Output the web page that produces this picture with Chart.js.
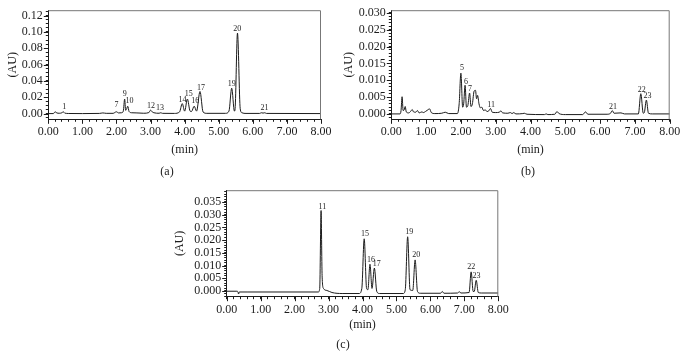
<!DOCTYPE html>
<html><head><meta charset="utf-8">
<script src="https://cdn.jsdelivr.net/npm/chart.js@4.4.0/dist/chart.umd.min.js"></script>
<style>
body{margin:0;background:#fff;width:686px;height:357px;overflow:hidden;position:relative;font-family:"Liberation Serif","Times New Roman",serif;}
canvas{position:absolute;}
.cap{position:absolute;font-size:12px;transform:translate(-50%,-50%);color:#222;white-space:nowrap;}
</style></head><body>
<canvas id="ca" width="335" height="180" style="left:0px;top:0px"></canvas>
<canvas id="cb" width="351" height="180" style="left:335px;top:0px"></canvas>
<canvas id="cc" width="360" height="177" style="left:160px;top:180px"></canvas>
<div class="cap" style="left:167px;top:171px">(a)</div>
<div class="cap" style="left:528px;top:171px">(b)</div>
<div class="cap" style="left:343px;top:344px">(c)</div>
<script>
// ---- Panel (a) ----
const timeA = [0.00,0.15,0.20,0.25,0.32,0.40,0.44,0.48,0.60,1.00,1.50,1.60,1.70,1.90,2.00,2.06,2.15,2.20,2.24,2.27,2.30,2.33,2.37,2.45,2.60,2.80,2.95,3.00,3.05,3.10,3.25,3.30,3.35,3.70,3.85,3.93,4.00,4.08,4.16,4.20,4.28,4.35,4.45,4.54,4.65,5.20,5.30,5.38,5.46,5.48,5.55,5.63,5.68,5.80,6.20,6.25,6.30,6.35,6.40,8.00];
const auA   = [0.0000,0.0000,0.0022,0.0008,0.0004,0.0010,0.0022,0.0006,0.0001,0.0000,0.0002,0.0008,0.0003,0.0003,0.0022,0.0008,0.0010,0.0030,0.0178,0.0040,0.0060,0.0090,0.0025,0.0010,0.0008,0.0004,0.0012,0.0042,0.0020,0.0010,0.0004,0.0010,0.0003,0.0002,0.0020,0.0122,0.0030,0.0178,0.0030,0.0025,0.0090,0.0030,0.0270,0.0020,0.0003,0.0003,0.0030,0.0310,0.0030,0.0060,0.0985,0.0060,0.0010,0.0002,0.0002,0.0010,0.0006,0.0010,0.0002,0.0000];
const peakNameA = ["1","7","9","10","12","13","14","15","16","17","19","20","21"];
const peakTimeA = [0.47,2.00,2.24,2.38,3.01,3.28,3.94,4.12,4.31,4.48,5.38,5.54,6.34];
const peakAuA   = [0.0083,0.0107,0.0246,0.0151,0.0100,0.0064,0.0171,0.0238,0.0154,0.0314,0.0361,0.1042,0.0068];

// ---- Panel (b) ----
const timeB = [0.00,0.25,0.28,0.31,0.34,0.37,0.40,0.43,0.50,0.56,0.60,0.64,0.70,0.75,0.80,0.88,0.92,0.98,1.05,1.10,1.15,1.25,1.45,1.55,1.65,1.90,1.95,2.00,2.05,2.08,2.12,2.16,2.20,2.25,2.29,2.33,2.38,2.42,2.45,2.48,2.52,2.56,2.60,2.65,2.70,2.75,2.80,2.85,2.90,3.00,3.10,3.15,3.20,3.35,3.42,3.47,3.52,3.58,3.78,3.82,3.90,4.40,4.45,4.50,4.70,4.76,4.82,5.00,5.50,5.58,5.65,6.20,6.30,6.35,6.40,6.60,6.70,7.10,7.17,7.24,7.27,7.33,7.39,7.50,8.00];
const auB   = [0.0000,0.0000,0.0010,0.0051,0.0010,0.0012,0.0022,0.0006,0.0003,0.0008,0.0013,0.0006,0.0005,0.0010,0.0003,0.0006,0.0004,0.0007,0.0012,0.0015,0.0004,0.0001,0.0002,0.0005,0.0001,0.0001,0.0030,0.0121,0.0020,0.0030,0.0085,0.0020,0.0025,0.0062,0.0022,0.0030,0.0068,0.0070,0.0045,0.0055,0.0030,0.0018,0.0020,0.0010,0.0012,0.0007,0.0009,0.0016,0.0005,0.0004,0.0005,0.0009,0.0003,0.0002,0.0004,0.0001,0.0004,0.0000,0.0001,0.0002,-0.0001,-0.0002,0.0000,-0.0002,-0.0001,0.0007,0.0001,-0.0002,-0.0002,0.0006,-0.0001,-0.0001,0.0002,0.0010,0.0002,0.0003,0.0000,0.0000,0.0060,0.0002,0.0004,0.0041,0.0002,0.0000,0.0000];
const peakNameB = ["5","6","7","11","21","22","23"];
const peakTimeB = [2.03,2.15,2.26,2.87,6.37,7.20,7.36];
const peakAuB   = [0.0136,0.0095,0.0075,0.0027,0.0020,0.0071,0.0052];

// ---- Panel (c) ----
const timeC = [0.00,0.30,0.33,0.35,0.37,0.60,2.70,2.74,2.78,2.81,2.85,2.95,3.10,3.40,3.90,3.98,4.05,4.12,4.16,4.22,4.28,4.35,4.42,4.50,5.20,5.26,5.33,5.40,5.48,5.55,5.62,5.70,6.30,6.35,6.40,6.80,6.85,6.90,7.14,7.20,7.26,7.29,7.35,7.41,7.50,8.00];
const auC   = [-0.0001,-0.0001,-0.0003,-0.0012,-0.0004,-0.0004,-0.0004,0.0010,0.0316,0.0060,0.0010,0.0002,-0.0006,-0.0010,-0.0010,0.0010,0.0205,0.0010,0.0005,0.0105,0.0010,0.0090,-0.0002,-0.0010,-0.0010,0.0005,0.0213,0.0005,0.0002,0.0122,-0.0002,-0.0009,-0.0009,-0.0002,-0.0009,-0.0008,-0.0003,-0.0008,-0.0006,0.0075,-0.0002,-0.0002,0.0042,-0.0006,-0.0008,-0.0008];
const peakNameC = ["11","15","16","17","19","20","22","23"];
const peakTimeC = [2.82,4.07,4.25,4.42,5.38,5.58,7.20,7.36];
const peakAuC   = [0.0331,0.0224,0.0121,0.0106,0.0232,0.0140,0.0095,0.0061];

// axis settings
const xRange = [0, 8];
const xMinorStep = 0.2;
const yRangeA = [-0.007, 0.1265], yMinorA = 0.005, yMajorA = 0.02, yDecA = 2;
const yRangeB = [-0.0016, 0.0308], yMinorB = 0.001, yMajorB = 0.005, yDecB = 3;
const yRangeC = [-0.00225, 0.0396], yMinorC = 0.001, yMajorC = 0.005, yDecC = 3;

const FONT = "Liberation Serif";
const INK = '#1c1c1c';

function isMult(v, m){ const r = v / m; return Math.abs(r - Math.round(r)) < 1e-6; }

function makeChart(id, times, values, pNames, pTimes, pAus, yRange, yMinor, yMajor, yDec, L){
  const pts = times.map((t,i)=>({x:t, y:values[i]}));
  const deco = {
    id: 'deco',
    afterDraw(chart){
      const ctx = chart.ctx, a = chart.chartArea;
      const xs = chart.scales.x, ys = chart.scales.y;
      ctx.save();
      ctx.lineWidth = 1;
      ctx.strokeStyle = '#777';
      ctx.beginPath();
      ctx.moveTo(a.left, a.top+0.5); ctx.lineTo(a.right-0.5, a.top+0.5); ctx.lineTo(a.right-0.5, a.bottom);
      ctx.stroke();
      ctx.strokeStyle = INK;
      ctx.beginPath();
      xs.ticks.forEach(t=>{ if(isMult(t.value,1)){ const px = Math.round(xs.getPixelForValue(t.value))+0.5; ctx.moveTo(px, a.bottom); ctx.lineTo(px, a.bottom+4.5);} });
      ys.ticks.forEach(t=>{ if(isMult(t.value,yMajor)){ const py = Math.round(ys.getPixelForValue(t.value))+0.5; ctx.moveTo(a.left, py); ctx.lineTo(a.left-4.5, py);} });
      ctx.stroke();
      ctx.fillStyle = INK;
      ctx.font = '8px "'+FONT+'"';
      ctx.textAlign = 'center'; ctx.textBaseline = 'middle';
      pNames.forEach((n,i)=>{ ctx.fillText(n, xs.getPixelForValue(pTimes[i]), ys.getPixelForValue(pAus[i])); });
      ctx.restore();
    }
  };
  return new Chart(document.getElementById(id), {
    type: 'line',
    data: { datasets: [{ data: pts, borderColor: INK, borderWidth: 1, pointRadius: 0, cubicInterpolationMode: 'monotone', fill: false }] },
    options: {
      responsive: false, animation: false, events: [],
      layout: { padding: { top: L.padTop, right: L.padRight, left: 0, bottom: 0 } },
      plugins: { legend: {display:false}, tooltip: {enabled:false} },
      scales: {
        x: {
          type: 'linear', min: xRange[0], max: xRange[1],
          afterFit: s => { s.height = L.xH; },
          border: { display: true, color: INK, width: 1 },
          grid: { drawOnChartArea: false, drawTicks: true, tickLength: 2.5, color: INK },
          ticks: { stepSize: xMinorStep, autoSkip: false, maxRotation: 0, minRotation: 0, padding: L.xTickPad, color: INK,
                   font: { family: FONT, size: 12 },
                   callback: v => isMult(v,1) ? Number(v).toFixed(2) : '' },
          title: { display: true, text: '(min)', color: INK, font: { family: FONT, size: 12 }, padding: { top: 0, bottom: L.xTitlePad } }
        },
        y: {
          type: 'linear', min: yRange[0], max: yRange[1],
          afterFit: s => { s.width = L.yW; },
          border: { display: true, color: INK, width: 1 },
          grid: { drawOnChartArea: false, drawTicks: true, tickLength: 2.5, color: INK },
          ticks: { stepSize: yMinor, includeBounds: false, autoSkip: false, padding: L.yTickPad, color: INK,
                   font: { family: FONT, size: 12 },
                   callback: v => isMult(v,yMajor) ? Number(v).toFixed(yDec) : '' },
          title: { display: true, text: '(AU)', color: INK, font: { family: FONT, size: 12 }, padding: { top: L.yTitlePad, bottom: 0 } }
        }
      }
    },
    plugins: [deco]
  });
}

makeChart('ca', timeA, auA, peakNameA, peakTimeA, peakAuA, yRangeA, yMinorA, yMajorA, yDecA,
  { padTop: 7, padRight: 14, xH: 60.7, yW: 48.3, xTickPad: 3, yTickPad: 3, xTitlePad: 22.8, yTitlePad: 5.5 });
makeChart('cb', timeB, auB, peakNameB, peakTimeB, peakAuB, yRangeB, yMinorB, yMajorB, yDecB,
  { padTop: 7.3, padRight: 16.3, xH: 60.7, yW: 56.3, xTickPad: 3, yTickPad: 3, xTitlePad: 22.8, yTitlePad: 6.8 });
makeChart('cc', timeC, auC, peakNameC, peakTimeC, peakAuC, yRangeC, yMinorC, yMajorC, yDecC,
  { padTop: 5, padRight: 21.7, xH: 60.3, yW: 66.7, xTickPad: 3, yTickPad: 3, xTitlePad: 24.8, yTitlePad: 13 });
</script>
</body></html>
